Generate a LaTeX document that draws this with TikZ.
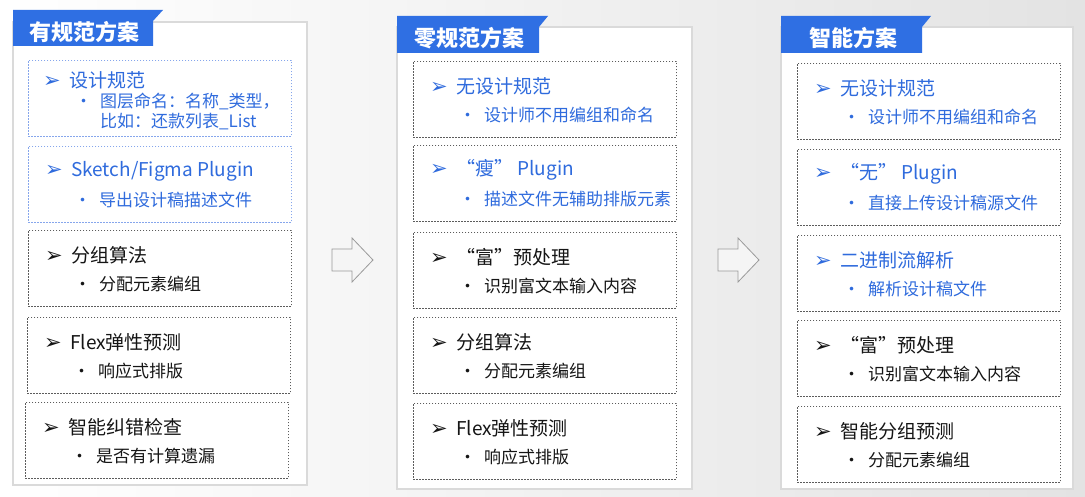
\documentclass[tikz,border=0pt]{standalone}
\usepackage{fontspec}
\setmainfont{Noto Sans CJK SC}
\newfontfamily\symfont{DejaVu Sans}
\usetikzlibrary{calc,positioning}
\definecolor{TabBlue}{HTML}{2F6FE3}
\definecolor{TxtBlue}{HTML}{2F6BDD}
\definecolor{DotBlue}{HTML}{86A6EC}
\definecolor{DashGray}{HTML}{5C5C5C}
\definecolor{PanelLine}{HTML}{DADADA}
\definecolor{BgRight}{HTML}{E3E3E3}
\definecolor{ArrGray}{HTML}{9A9A9A}
\definecolor{InkBlack}{HTML}{151515}

\newcommand{\mk}{\makebox[26pt][l]{\symfont\fontsize{21pt}{21pt}\selectfont ➢}}
\newcommand{\bl}{\makebox[25pt][l]{•}}
% box, title line and bullet line of one step
\newcommand{\entry}[7]{%
  \node[blk,#4] (#1) at (#2,#3) {};
  \node[ttl,text=#5] (#1t) at ($(#1.north west)+(17,25)$) {\mk #6};
  \node[sub,text=#5] (#1s) at ($(#1.north west)+(46,54)$) {\bl #7};
}

\begin{document}
\begin{tikzpicture}[x=1pt,y=-1pt,
    blk/.style={anchor=north west,minimum width=263pt,minimum height=76pt,
      inner sep=0pt,line width=0.8pt},
    grayline/.style={draw=DashGray,dash pattern=on 1.6pt off 1.4pt},
    blueline/.style={draw=DotBlue,dash pattern=on 1.6pt off 1.4pt},
    ttl/.style={anchor=west,inner sep=0pt,font=\fontsize{19pt}{22pt}\selectfont},
    sub/.style={anchor=west,inner sep=0pt,align=left,
      font=\fontsize{17pt}{20pt}\selectfont},
    panel/.style={draw=PanelLine,line width=1.6pt,fill=white},
    tab/.style={fill=TabBlue},
    tabtxt/.style={text=white,font=\fontsize{22pt}{24pt}\selectfont\bfseries},
    hollow/.style={draw=ArrGray,line width=0.8pt,fill=white!96!black}
  ]
  \useasboundingbox (0,0) rectangle (1085,497);
  \shade[left color=white,right color=BgRight] (0,0) rectangle (1085,497);

  % panels and their tabs
  \draw[panel] (13,22) rectangle (307,485);
  \draw[panel] (397,27) rectangle (692,489);
  \draw[panel] (781,27) rectangle (1073,489);
  \fill[tab] (13,10) -- (163,10) -- (153,21) -- (153,46) -- (13,46) -- cycle;
  \fill[tab] (397,16) -- (548,16) -- (539,27) -- (539,53) -- (397,53) -- cycle;
  \fill[tab] (781,16) -- (931,16) -- (922,27) -- (922,53) -- (781,53) -- cycle;
  \node[tabtxt] (tabA) at (85,32) {有规范方案};
  \node[tabtxt] (tabB) at (469,38) {零规范方案};
  \node[tabtxt] (tabC) at (853,38) {智能方案};

  % 有规范方案
  \node[blk,blueline] (a1) at (28,60) {};
  \node[ttl,text=TxtBlue] (a1t) at ($(a1.north west)+(15,20)$) {\mk 设计规范};
  \node[sub,text=TxtBlue,anchor=north west] (a1s) at ($(a1.north west)+(47,33)$)
    {\bl 图层命名：名称\_类型，\\\hspace{25pt}比如：还款列表\_List};
  \entry{a2}{28}{146}{blueline}{TxtBlue}{Sketch/Figma Plugin}{导出设计稿描述文件}
  \entry{a3}{28}{230}{grayline}{InkBlack}{分组算法}{分配元素编组}
  \entry{a4}{27}{317}{grayline}{InkBlack}{Flex弹性预测}{响应式排版}
  \entry{a5}{25}{402}{grayline}{InkBlack}{智能纠错检查}{是否有计算遗漏}

  % 零规范方案
  \entry{b1}{413}{61}{grayline}{TxtBlue}{无设计规范}{设计师不用编组和命名}
  \entry{b2}{413}{145}{grayline}{TxtBlue}{“瘦” Plugin}{描述文件无辅助排版元素}
  \entry{b3}{413}{232}{grayline}{InkBlack}{“富”预处理}{识别富文本输入内容}
  \entry{b4}{413}{317}{grayline}{InkBlack}{分组算法}{分配元素编组}
  \entry{b5}{413}{403}{grayline}{InkBlack}{Flex弹性预测}{响应式排版}

  % 智能方案
  \entry{c1}{797}{63}{grayline}{TxtBlue}{无设计规范}{设计师不用编组和命名}
  \entry{c2}{797}{149}{grayline}{TxtBlue}{“无” Plugin}{直接上传设计稿源文件}
  \entry{c3}{797}{235}{grayline}{TxtBlue}{二进制流解析}{解析设计稿文件}
  \entry{c4}{797}{320}{grayline}{InkBlack}{“富”预处理}{识别富文本输入内容}
  \entry{c5}{797}{406}{grayline}{InkBlack}{智能分组预测}{分配元素编组}

  % hollow arrows between the panels
  \draw[hollow] (332,249) -- (352,249) -- (352,238) -- (373,260) -- (352,282)
    -- (352,271) -- (332,271) -- cycle;
  \draw[hollow] (718,249) -- (738,249) -- (738,238) -- (759,260) -- (738,282)
    -- (738,271) -- (718,271) -- cycle;
\end{tikzpicture}
\end{document}
